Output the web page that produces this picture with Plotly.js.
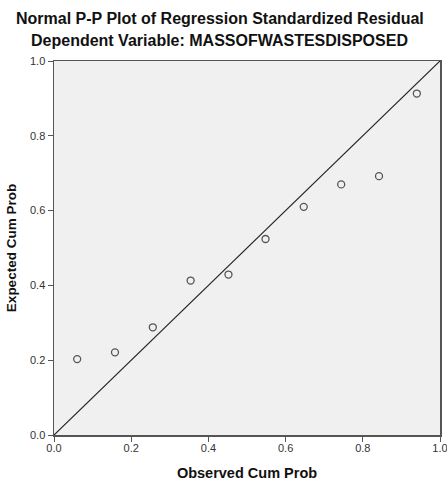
<!DOCTYPE html>
<html>
<head>
<meta charset="utf-8">
<script src="https://cdn.plot.ly/plotly-3.0.1.min.js"></script>
<style>html,body{margin:0;padding:0;background:#fff;}#chart{width:447px;height:481px;}</style>
</head>
<body>
<div id="chart"></div>
<script>
var observedCumProb = [0.060, 0.158, 0.256, 0.354, 0.452, 0.548, 0.647, 0.744, 0.842, 0.940];
var expectedCumProb = [0.203, 0.221, 0.288, 0.413, 0.429, 0.524, 0.610, 0.670, 0.692, 0.913];
var refLine = [0, 1];
var tickVals = [0, 0.2, 0.4, 0.6, 0.8, 1.0];
var tickText = ["0.0", "0.2", "0.4", "0.6", "0.8", "1.0"];
var titleLine1 = "Normal P-P Plot of Regression Standardized Residual";
var titleLine2 = "Dependent Variable: MASSOFWASTESDISPOSED";

var traces = [
  {x: refLine, y: refLine, mode: "lines", type: "scatter",
   line: {color: "#222", width: 1.2}, hoverinfo: "skip", showlegend: false, cliponaxis: false},
  {x: observedCumProb, y: expectedCumProb, mode: "markers", type: "scatter",
   marker: {symbol: "circle-open", size: 7, color: "#555", line: {width: 1.3, color: "#555"}},
   showlegend: false}
];

var font = "Liberation Sans, Arial, sans-serif";
var layout = {
  width: 447, height: 481,
  margin: {l: 54, r: 7, t: 61, b: 46},
  paper_bgcolor: "#ffffff",
  plot_bgcolor: "#f0f0f0",
  font: {family: font, color: "#333", size: 11},
  showlegend: false,
  xaxis: {
    range: [0, 1], tickvals: tickVals, ticktext: tickText,
    showgrid: false, zeroline: false,
    showline: true, linecolor: "#555", linewidth: 1.5, mirror: true,
    ticks: "outside", ticklen: 5, tickcolor: "#555", tickwidth: 1,
    ticklabelstandoff: -3, ticklabeloverflow: "allow",
    tickfont: {family: font, size: 11, color: "#333"},
    title: {text: "<b>Observed Cum Prob</b>", font: {family: font, size: 14.5, color: "#111"}, standoff: 15}
  },
  yaxis: {
    range: [0, 1], tickvals: tickVals, ticktext: tickText,
    showgrid: false, zeroline: false,
    showline: true, linecolor: "#555", linewidth: 1.5, mirror: true,
    ticks: "outside", ticklen: 5, tickcolor: "#555", tickwidth: 1,
    tickfont: {family: font, size: 11, color: "#333"},
    title: {text: "<b>Expected Cum Prob</b>", font: {family: font, size: 13.5, color: "#111"}, standoff: 10}
  },
  annotations: [
    {text: "<b>" + titleLine1 + "</b>", xref: "paper", yref: "paper", x: 0.430, y: 1,
     xanchor: "center", yanchor: "middle", yshift: 42.5, showarrow: false,
     font: {family: font, size: 16, color: "#111"}},
    {text: "<b>" + titleLine2 + "</b>", xref: "paper", yref: "paper", x: 0.430, y: 1,
     xanchor: "center", yanchor: "middle", yshift: 21, showarrow: false,
     font: {family: font, size: 16, color: "#111"}}
  ]
};

Plotly.newPlot("chart", traces, layout, {displayModeBar: false, staticPlot: true});
</script>
</body>
</html>
